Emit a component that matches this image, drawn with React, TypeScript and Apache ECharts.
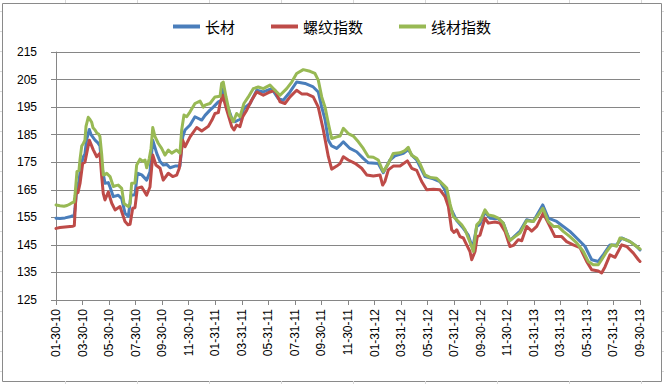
import React, { useEffect, useRef } from "react";
import * as echarts from "echarts";

// x positions are months since 2010-01-30
const tickLabels = [
  "01-30-10", "03-30-10", "05-30-10", "07-30-10", "09-30-10", "11-30-10",
  "01-31-11", "03-31-11", "05-31-11", "07-31-11", "09-30-11", "11-30-11",
  "01-31-12", "03-31-12", "05-31-12", "07-31-12", "09-30-12", "11-30-12",
  "01-31-13", "03-31-13", "05-31-13", "07-31-13", "09-30-13",
];

const seriesNames = ["长材", "螺纹指数", "线材指数"];

const longMonths = [
  0, 0.3, 0.68, 1.05, 1.21, 1.36, 1.43, 1.58, 1.73, 1.88,
  2.06, 2.18, 2.3, 2.51, 2.64, 2.94, 3.16, 3.31, 3.44, 3.69,
  3.94, 4.07, 4.32, 4.69, 4.95, 5.2, 5.45, 5.65, 5.95, 6.13,
  6.46, 6.83, 7.08, 7.29, 7.59, 7.84, 8.08, 8.34, 8.59, 8.97,
  9.34, 9.55, 9.72, 10.1, 10.47, 10.98, 11.23, 11.6, 11.85, 12.23,
  12.48, 12.6, 12.86, 13.24, 13.49, 13.86, 14.16, 14.62, 15.12, 15.62,
  16.25, 16.75, 17.12, 17.63, 18.13, 18.76, 19.38, 19.76, 20.02, 20.27,
  20.52, 20.77, 21.15, 21.47, 21.65, 22.15, 22.65, 23.15, 23.53, 24.28,
  24.66, 25.16, 25.54, 26.17, 26.54, 26.82, 27.18, 27.8, 28.43, 28.93,
  29.31, 29.68, 30.19, 30.69, 31.06, 31.39, 31.7, 31.94, 32.32, 32.7,
  33.3, 33.7, 33.96, 34.2, 34.96, 35.46, 35.96, 36.67, 37.09, 37.72,
  38.72, 39.23, 39.85, 40.36, 40.86, 41.24, 41.74, 42.24, 42.62, 43.25,
  43.75, 44,
];
const longValues = [
  154.7, 154.6, 154.8, 155.2, 155.5, 155.5, 158, 166.2, 168, 174,
  177, 178, 183, 186.9, 185, 183, 182, 180.9, 174, 167.4,
  167.6, 166, 162.5, 163, 161.8, 156.5, 155.3, 163, 163.2, 171,
  170.4, 168.5, 171.5, 183, 178.2, 175.3, 174, 174.2, 173, 173.6,
  173.6, 184.2, 186.7, 188.5, 191.5, 190.3, 192, 193.9, 195, 196.9,
  197.5, 201.7, 196.2, 191, 189.7, 190.6, 194.5, 196.3, 201.1, 200.5,
  201.7, 198.1, 197.5, 200.5, 204.1, 203.6, 202.3, 200.5, 195, 190.5,
  183, 180.9, 180, 181.5, 182.4, 180, 178.8, 176.4, 174.8, 174.5,
  171.2, 175.8, 177.3, 178.2, 179.6, 177.5, 175.8, 169.8, 169, 168,
  164.9, 158.9, 153.8, 151, 148.5, 143.8, 151.7, 152.5, 156.9, 154.7,
  154.5, 152.9, 149.5, 146.6, 150, 154.1, 153.5, 159.5, 154.7, 153.5,
  149.9, 147.5, 144.5, 139.6, 139, 141.5, 145, 145, 147.5, 146.2,
  144.4, 143.2,
];

const rebarMonths = [
  0, 0.3, 0.68, 1.05, 1.28, 1.38, 1.51, 1.66, 1.81, 2.01,
  2.18, 2.51, 2.81, 3.07, 3.16, 3.31, 3.44, 3.56, 3.69, 3.94,
  4.2, 4.45, 4.82, 5.2, 5.42, 5.58, 5.78, 5.95, 6.13, 6.46,
  6.83, 7.08, 7.29, 7.53, 7.84, 8.08, 8.46, 8.79, 9.09, 9.29,
  9.55, 9.72, 10.1, 10.6, 10.98, 11.47, 11.75, 11.98, 12.23, 12.36,
  12.56, 12.86, 13.24, 13.41, 13.61, 13.86, 14.07, 14.37, 14.74, 15.12,
  15.62, 16.12, 16.5, 16.88, 17.25, 17.63, 18.13, 18.51, 18.89, 19.38,
  19.76, 20.14, 20.52, 20.77, 21.15, 21.4, 21.65, 22.02, 22.53, 23.03,
  23.41, 23.91, 24.41, 24.61, 24.78, 25.04, 25.41, 25.92, 26.47, 26.8,
  27.18, 27.55, 27.93, 28.43, 28.93, 29.31, 29.56, 29.81, 29.99, 30.19,
  30.44, 30.69, 30.94, 31.19, 31.32, 31.57, 31.74, 31.94, 32.32, 32.57,
  33.07, 33.45, 33.83, 34.2, 34.46, 34.83, 35.09, 35.46, 35.84, 36.22,
  36.71, 37.09, 37.59, 38.1, 38.47, 38.97, 39.48, 39.98, 40.36, 40.86,
  41.11, 41.36, 41.74, 42.12, 42.62, 43.0, 43.5, 43.88, 44,
];
const rebarValues = [
  151, 151.3, 151.5, 151.7, 151.8, 152, 163.7, 164, 167.3, 174.6,
  175, 183, 179.5, 177, 177.5, 178.2, 170, 163.7, 161.3, 164.2,
  160.1, 157.7, 158.9, 153.5, 152.3, 152.5, 158.3, 158.5, 165.6, 166,
  163, 166, 177.6, 174, 172.8, 168.5, 171, 169.8, 170.3, 172.8,
  183, 180.6, 184.2, 187.6, 186.3, 188, 190.3, 192.7, 193, 196.3,
  199.3, 194, 187.9, 186.7, 188.5, 187.9, 191.5, 193.9, 197.5, 200.5,
  199.3, 200.5, 201.1, 196.9, 196.3, 198.7, 201.1, 199.8, 199.8, 198.7,
  195, 186.7, 177, 172.5, 173.6, 174.5, 177, 175.8, 174.6, 172.8,
  170.4, 170, 170.4, 166.7, 168, 172.2, 173.6, 173.6, 175.5, 172.8,
  172, 168, 165, 165.2, 165, 162.5, 158.9, 150.5, 149.5, 150.5,
  148, 147.5, 145, 142.6, 139.6, 142.6, 148, 148.5, 154.7, 152.9,
  153.3, 152.9, 149.9, 144.4, 144.8, 146.9, 146.5, 151.7, 150, 151.7,
  156.5, 152.9, 148, 148, 146.2, 145, 144, 139, 136, 135.5,
  134.8, 137, 141.4, 140.5, 145, 144.4, 142, 139.6, 139,
];

const wireMonths = [
  0, 0.3, 0.6, 0.83, 1.05, 1.21, 1.36, 1.43, 1.58, 1.73,
  1.81, 1.94, 2.06, 2.18, 2.26, 2.43, 2.56, 2.69, 2.79, 2.94,
  3.09, 3.19, 3.31, 3.44, 3.56, 3.69, 3.82, 3.92, 4.07, 4.32,
  4.52, 4.69, 4.95, 5.12, 5.27, 5.45, 5.58, 5.7, 5.95, 6.08,
  6.33, 6.53, 6.71, 6.83, 7.03, 7.16, 7.29, 7.46, 7.71, 7.96,
  8.21, 8.46, 8.72, 9.09, 9.34, 9.47, 9.64, 9.85, 10.1, 10.47,
  10.85, 11.1, 11.23, 11.6, 11.98, 12.36, 12.48, 12.6, 12.81, 13.11,
  13.36, 13.61, 13.86, 14.16, 14.49, 14.86, 15.24, 15.62, 16.12, 16.5,
  16.88, 17.38, 17.76, 18.13, 18.63, 19.14, 19.51, 19.76, 20.02, 20.27,
  20.52, 20.77, 21.15, 21.4, 21.65, 22.02, 22.4, 22.78, 23.15, 23.53,
  23.91, 24.28, 24.54, 24.66, 25.04, 25.41, 25.92, 26.29, 26.54, 26.8,
  27.18, 27.42, 27.8, 28.18, 28.68, 29.06, 29.44, 29.68, 29.93, 30.19,
  30.57, 30.82, 31.06, 31.32, 31.44, 31.7, 31.94, 32.32, 32.57, 32.95,
  33.32, 33.7, 33.96, 34.2, 34.58, 34.96, 35.21, 35.46, 35.96, 36.34,
  36.67, 36.84, 37.09, 37.47, 37.84, 38.22, 38.72, 39.23, 39.73, 40.1,
  40.48, 40.86, 41.11, 41.49, 41.87, 42.24, 42.49, 42.87, 43.25, 43.75,
  44,
];
const wireValues = [
  159.5, 159.2, 159.0, 159.3, 159.8, 160.3, 160.5, 163, 171.6, 172,
  176, 180.9, 181.8, 183, 188, 191.3, 190.5, 189.5, 187.5, 186.7,
  185.5, 185.3, 184.3, 178, 170.4, 170.5, 171, 170.5, 169.8, 166.2,
  166.5, 166.7, 165.5, 160.1, 159.5, 158.9, 160, 167.4, 167.5, 174,
  176.1, 175.3, 175.8, 173, 176.4, 180, 187.6, 184.3, 181.8, 180,
  177.6, 179.4, 178.3, 179.4, 178.3, 186.7, 192.1, 191.5, 193.3, 196.3,
  197.2, 195, 195.7, 196.3, 198.7, 198.9, 203.6, 204.1, 198.7, 192.1,
  189.7, 192.7, 191.5, 196.3, 198.7, 201.7, 202.3, 201.7, 203, 201.1,
  199.3, 201.7, 204.1, 207.2, 208.6, 208, 207.2, 204.8, 198.7, 195,
  189, 183.6, 184.2, 184.5, 187.3, 185.4, 184.5, 182.4, 180, 177,
  176.8, 175.8, 172.8, 171.6, 174.5, 178.2, 178.4, 179.2, 180.4, 177.5,
  176.4, 174.5, 170.4, 169.5, 169.2, 167.4, 165.6, 160.1, 155.3, 154.1,
  152.3, 150.5, 147.5, 144.4, 142.6, 152.3, 153.5, 157.7, 155.9, 155.5,
  154.7, 152.9, 149.3, 146.6, 148, 149.3, 151.5, 153.8, 153.5, 155.9,
  158.3, 156.5, 153.5, 151.7, 151.7, 149.9, 148, 145.7, 142.6, 139,
  137.8, 137.8, 139.6, 142.6, 145, 144.5, 147.5, 147, 146.2, 144.4,
  143.5,
];

const colors = ["#4A7EBB", "#BE4B48", "#98B954"];
const axisGray = "#868686";

export default function App() {
  const ref = useRef<HTMLDivElement>(null);

  useEffect(() => {
    document.body.style.margin = "0";
    if (!ref.current) return;
    const chart = echarts.init(ref.current, undefined, { renderer: "svg" });

    const pairs = (ms: number[], vs: number[]) => ms.map((m, i) => [m, vs[i]]);
    const seriesData = [
      pairs(longMonths, longValues),
      pairs(rebarMonths, rebarValues),
      pairs(wireMonths, wireValues),
    ];

    // faint spreadsheet cell lines outside the chart frame
    const sheetLines: any[] = [];
    for (let x = 65.5; x < 664; x += 72) {
      sheetLines.push({ type: "line", shape: { x1: x, y1: 0, x2: x, y2: 3 }, style: { stroke: "#d9d9d9", lineWidth: 1 }, silent: true });
      sheetLines.push({ type: "line", shape: { x1: x, y1: 381, x2: x, y2: 384 }, style: { stroke: "#d9d9d9", lineWidth: 1 }, silent: true });
    }
    for (let y = 11.5; y < 384; y += 20) {
      sheetLines.push({ type: "line", shape: { x1: 0, y1: y, x2: 2, y2: y }, style: { stroke: "#d9d9d9", lineWidth: 1 }, silent: true });
      sheetLines.push({ type: "line", shape: { x1: 662, y1: y, x2: 664, y2: y }, style: { stroke: "#d9d9d9", lineWidth: 1 }, silent: true });
    }

    chart.setOption({
      animation: false,
      backgroundColor: "#ffffff",
      graphic: [
        ...sheetLines,
        {
          type: "rect",
          shape: { x: 2.5, y: 3.5, width: 659, height: 378 },
          style: { fill: "none", stroke: "#8a8a8a", lineWidth: 1 },
          silent: true,
          z: -1,
        },
      ],
      legend: {
        data: seriesNames,
        left: 173,
        top: 19,
        padding: 0,
        itemGap: 36,
        itemWidth: 27,
        itemHeight: 4,
        icon: "rect",
        textStyle: {
          fontSize: 15,
          fontFamily: "Noto Sans CJK SC",
          color: "#000",
        },
      },
      grid: { left: 56, right: 24, top: 52, bottom: 84, containLabel: false },
      xAxis: {
        type: "value",
        min: 0,
        max: 44,
        interval: 2,
        axisLine: { show: true, lineStyle: { color: axisGray, width: 1 } },
        axisTick: { show: true, length: 5, lineStyle: { color: axisGray } },
        splitLine: { show: false },
        axisLabel: {
          rotate: 90,
          margin: 9,
          fontSize: 12,
          fontFamily: "Liberation Sans",
          color: "#000",
          showMinLabel: true,
          showMaxLabel: true,
          formatter: (v: number) => tickLabels[Math.round(v / 2)] ?? "",
        },
      },
      yAxis: {
        type: "value",
        min: 125,
        max: 215,
        interval: 10,
        axisLine: { show: true, lineStyle: { color: axisGray, width: 1 } },
        axisTick: { show: true, length: 5, lineStyle: { color: axisGray } },
        splitLine: { show: true, lineStyle: { color: axisGray, width: 1 } },
        axisLabel: {
          margin: 19,
          fontSize: 12,
          fontFamily: "Liberation Sans",
          color: "#000",
        },
      },
      series: seriesNames.map((name, i) => ({
        name,
        type: "line",
        data: seriesData[i],
        showSymbol: false,
        symbol: "none",
        color: colors[i],
        lineStyle: { width: 3, color: colors[i], join: "round", cap: "round" },
        z: 2 + i,
      })),
    });

    return () => chart.dispose();
  }, []);

  return <div ref={ref} style={{ width: 664, height: 384 }} />;
}
